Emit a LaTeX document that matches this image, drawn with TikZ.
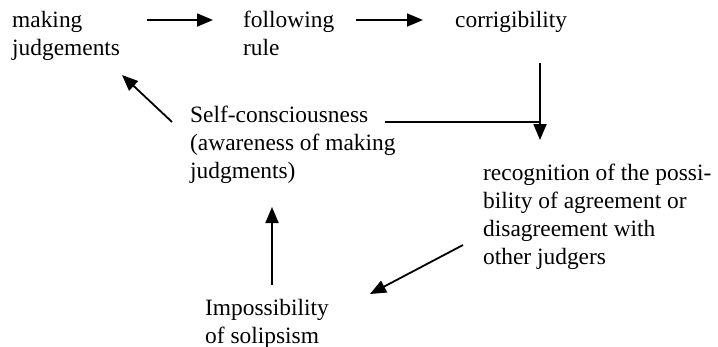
\documentclass[tikz,border=0pt]{standalone}
\usepackage{fontspec}
\setmainfont{Liberation Serif}
\usetikzlibrary{arrows.meta}
\begin{document}
\begin{tikzpicture}[x=1pt,y=-1pt,
  lbl/.style={anchor=base west,inner sep=0pt,align=left,
    font=\fontsize{23.4}{28}\selectfont},
  arr/.style={line width=1.8pt,-{Triangle[length=16pt,width=13pt]}},
  ln/.style={line width=1.8pt}]
\useasboundingbox (0,0) rectangle (718,346);
\node[lbl] (mj) at (12,55) {making\\judgements};
\node[lbl] (fr) at (243,55) {following\\rule};
\node[lbl] (co) at (455,27) {corrigibility};
\node[lbl] (sc) at (190,178) {Self-consciousness\\(awareness of making\\judgments)};
\node[lbl] (re) at (483,264) {recognition of the possi-\\bility of agreement or\\disagreement with\\other judgers};
\node[lbl] (im) at (205,343) {Impossibility\\of solipsism};
\coordinate (a1s) at (147,20); \coordinate (a1e) at (213,20);
\coordinate (a2s) at (356,20); \coordinate (a2e) at (423,20);
\coordinate (a3s) at (540,63); \coordinate (a3e) at (540,140);
\coordinate (j) at (540,122); \coordinate (l1) at (385,122);
\coordinate (a4s) at (172,122); \coordinate (a4e) at (122,75);
\coordinate (a5s) at (463,245); \coordinate (a5e) at (370,294);
\coordinate (a6s) at (272,285); \coordinate (a6e) at (272,207);
\draw[arr] (a1s) -- (a1e);
\draw[arr] (a2s) -- (a2e);
\draw[arr] (a3s) -- (a3e);
\draw[ln] (l1) -- (j);
\draw[arr] (a4s) -- (a4e);
\draw[arr] (a5s) -- (a5e);
\draw[arr] (a6s) -- (a6e);
\end{tikzpicture}
\end{document}
